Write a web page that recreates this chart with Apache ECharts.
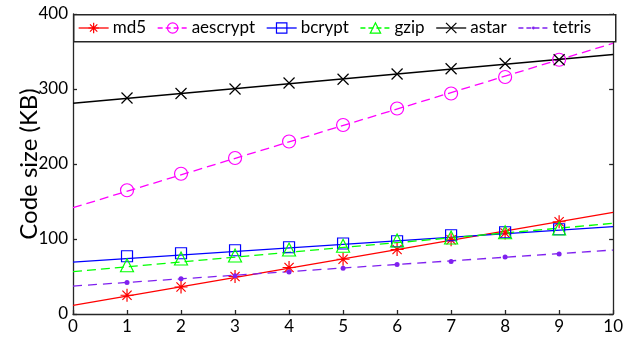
<!DOCTYPE html>
<html>
<head>
<meta charset="utf-8">
<script src="https://cdn.jsdelivr.net/npm/echarts@6/dist/echarts.min.js"></script>
<style>
  html, body { margin: 0; padding: 0; background: #fff; }
  #chart { width: 626px; height: 340px; }
</style>
</head>
<body>
<div id="chart"></div>
<script>
// ---- data ----
const xPoints = [1, 2, 3, 4, 5, 6, 7, 8, 9];
const fitX = [0, 10];

const md5 = [25, 36, 50, 62, 73, 86, 99, 108, 123];
const aescrypt = [165, 187, 208, 230, 252, 274, 294, 316, 339];
const bcrypt = [77, 81, 85, 89, 94, 97, 105, 109, 113];
const gzip = [65, 74, 78, 86, 91, 98, 102, 109, 114];
const astar = [288, 294, 300, 308, 313, 320, 327, 334, 339];
const tetris = [42, 47, 51, 56, 61, 66, 70, 76, 80];

// trend-line values at x = 0 and x = 10
const md5Fit = [11.6, 135.6];
const aescryptFit = [141.7, 361];
const bcryptFit = [69.3, 116.4];
const gzipFit = [56.4, 120.9];
const astarFit = [281, 346];
const tetrisFit = [37.3, 85.3];

const seriesNames = ['md5', 'aescrypt', 'bcrypt', 'gzip', 'astar', 'tetris'];
const xTickLabels = ['0','1','2','3','4','5','6','7','8','9','10'];
const yTickLabels = ['0','100','200','300','400'];

// ---- styles ----
const FONT = 'Lato';
const starPath = 'path://M6 0 L6 12 M0 6 L12 6 M1.76 1.76 L10.24 10.24 M10.24 1.76 L1.76 10.24';
const crossPath = 'path://M0 0 L10 10 M10 0 L0 10';
// small dot inside a larger (invisible) box, so the legend shows a small dot
const dotLegendPath = 'path://M0 0 M12 12 M6 4.3 A1.7 1.7 0 1 1 6 7.7 A1.7 1.7 0 1 1 6 4.3 Z';

const defs = [
  { name: 'md5', data: md5, fit: md5Fit, color: '#ff0000', dash: 'solid', symbol: starPath, size: 13, fill: 'none', bw: 1.2 },
  { name: 'aescrypt', data: aescrypt, fit: aescryptFit, color: '#ff00ff', dash: [9, 5], symbol: 'circle', size: 13, fill: 'none', bw: 1.2 },
  { name: 'bcrypt', data: bcrypt, fit: bcryptFit, color: '#0000ff', dash: 'solid', symbol: 'rect', size: 11, fill: 'none', bw: 1.2 },
  { name: 'gzip', data: gzip, fit: gzipFit, color: '#00ff00', dash: [9, 5], symbol: 'triangle', size: 13, fill: 'none', bw: 1.2 },
  { name: 'astar', data: astar, fit: astarFit, color: '#000000', dash: 'solid', symbol: crossPath, size: 11, fill: 'none', bw: 1.2 },
  { name: 'tetris', data: tetris, fit: tetrisFit, color: '#7f20ef', dash: [9, 6], symbol: 'circle', legendSymbol: dotLegendPath, size: 5, fill: '#7f20ef', bw: 0 }
];

const series = [];
defs.forEach(d => {
  series.push({
    name: d.name,
    type: 'line',
    data: fitX.map((x, i) => [x, d.fit[i]]),
    symbol: d.legendSymbol || d.symbol,
    showSymbol: false,
    silent: true,
    animation: false,
    lineStyle: { color: d.color, width: 1.3, type: d.dash },
    itemStyle: { color: d.fill === 'none' ? d.color : d.fill, borderColor: d.color, borderWidth: d.bw },
    z: 2
  });
});
defs.forEach(d => {
  series.push({
    name: d.name,
    type: 'scatter',
    data: xPoints.map((x, i) => [x, d.data[i]]),
    symbol: d.symbol,
    symbolSize: d.size,
    animation: false,
    itemStyle: { color: d.fill, borderColor: d.color, borderWidth: d.bw, opacity: 1 },
    z: 3
  });
});

const legendData = defs.map(d => ({
  name: d.name,
  itemStyle: { color: d.fill, borderColor: d.color, borderWidth: d.bw },
  lineStyle: { color: d.color, width: 1.3, type: d.dash === 'solid' ? 'solid' : [5, 3] }
}));

const axisLine = { show: true, lineStyle: { color: '#262626', width: 1.3 } };
const axisTick = { show: true, inside: true, length: 4, lineStyle: { color: '#262626', width: 1.3 } };

const chart = echarts.init(document.getElementById('chart'), null, { renderer: 'canvas' });
chart.setOption({
  animation: false,
  backgroundColor: '#fff',
  textStyle: { fontFamily: FONT },
  grid: { left: 73, right: 11, top: 14, bottom: 26, containLabel: false },
  graphic: [{
    type: 'rect',
    left: 73, top: 14,
    shape: { width: 542, height: 27 },
    style: { fill: '#fff', stroke: '#262626', lineWidth: 1.5 },
    z: 10
  }],
  legend: {
    data: legendData,
    left: 78, top: 18,
    padding: 0,
    itemWidth: 30,
    itemHeight: 13,
    itemGap: 11,
    z: 20,
    selectedMode: false,
    textStyle: { fontFamily: FONT, fontSize: 17, color: '#000', lineHeight: 20, padding: [0, 0, 0, -1] }
  },
  xAxis: {
    type: 'value', min: 0, max: 10, interval: 1,
    axisLine: axisLine, axisTick: axisTick, splitLine: { show: false },
    axisLabel: { fontFamily: FONT, fontSize: 17, color: '#000', margin: 4,
      formatter: v => xTickLabels[Math.round(v)] }
  },
  yAxis: [{
    type: 'value', min: 0, max: 400, interval: 100,
    name: 'Code size (KB)', nameLocation: 'middle', nameGap: 32, nameMoveOverlap: false,
    nameTextStyle: { fontFamily: FONT, fontSize: 24, color: '#000' },
    axisLine: axisLine, axisTick: axisTick, splitLine: { show: false },
    axisLabel: { fontFamily: FONT, fontSize: 17, color: '#000', margin: 5,
      formatter: v => yTickLabels[Math.round(v / 100)] }
  }, {
    type: 'value', min: 0, max: 400, interval: 100, position: 'right',
    axisLine: axisLine, axisTick: axisTick, splitLine: { show: false },
    axisLabel: { show: false }
  }],
  series: series
});
</script>
</body>
</html>
